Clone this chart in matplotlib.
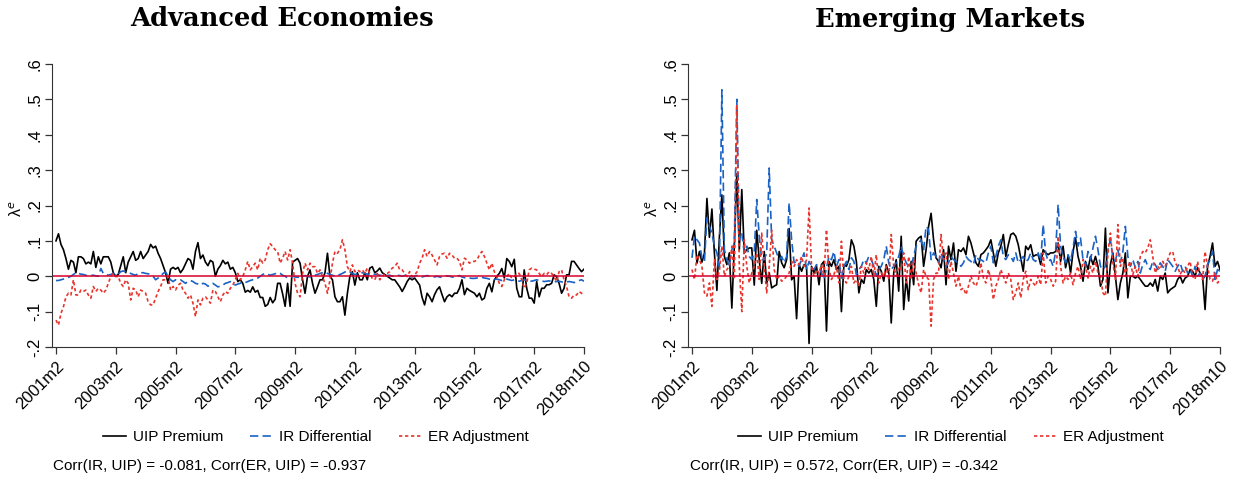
import numpy as np
import matplotlib.pyplot as plt
from matplotlib.lines import Line2D

plt.rcParams['font.family'] = ['Liberation Sans', 'DejaVu Sans']

# --- data (monthly, 2001m2 .. 2018m10) -------------------------------------
tick_pos = [0, 24, 48, 72, 96, 120, 144, 168, 192, 212]
tick_lab = ["2001m2", "2003m2", "2005m2", "2007m2", "2009m2",
            "2011m2", "2013m2", "2015m2", "2017m2", "2018m10"]
ytick_vals = [-0.2, -0.1, 0, 0.1, 0.2, 0.3, 0.4, 0.5, 0.6]
ytick_lab = ["-.2", "-.1", "0", ".1", ".2", ".3", ".4", ".5", ".6"]

ae_uip = [
    0.10, 0.12, 0.09, 0.075, 0.05, 0.02, 0.045, 0.04, 0.01, 0.055, 0.055, 0.05,
    0.035, 0.04, 0.035, 0.07, 0.025, 0.055, 0.035, 0.055, 0.055, 0.055, 0.04, 0.01,
    0.0, 0.005, 0.03, 0.055, 0.01, 0.04, 0.055, 0.07, 0.045, 0.05, 0.07, 0.05,
    0.06, 0.07, 0.09, 0.08, 0.085, 0.065, 0.05, 0.03, 0.01, -0.02, 0.02, 0.025,
    0.02, 0.025, 0.01, 0.02, 0.035, 0.05, 0.045, 0.02, 0.07, 0.095, 0.05, 0.06,
    0.04, 0.03, 0.045, 0.04, 0.0, 0.02, 0.03, 0.045, 0.035, 0.04, 0.02, 0.025,
    0.01, -0.015, -0.01, -0.02, -0.045, -0.04, -0.045, -0.03, -0.045, -0.04, -0.06, -0.06,
    -0.085, -0.08, -0.06, -0.075, -0.065, -0.02, -0.02, -0.05, -0.085, -0.02, -0.085, 0.04,
    0.045, 0.05, 0.037, -0.01, -0.048, 0.0, 0.018, -0.02, -0.048, -0.03, -0.01, -0.01,
    0.01, 0.065, 0.0, -0.01, -0.058, -0.072, -0.072, -0.058, -0.11, -0.048, 0.0, 0.013,
    -0.025, 0.01, -0.01, -0.01, 0.01, -0.01, 0.023, 0.027, 0.01, 0.015, 0.023, 0.01,
    0.005, 0.0, -0.005, -0.01, -0.01, -0.02, -0.03, -0.043, -0.03, -0.015, -0.005, -0.01,
    -0.005, -0.015, -0.025, -0.06, -0.081, -0.048, -0.058, -0.072, -0.052, -0.038, -0.03, -0.052,
    -0.072, -0.058, -0.052, -0.058, -0.048, -0.048, -0.034, -0.01, -0.052, -0.034, -0.04, -0.044,
    -0.048, -0.058, -0.048, -0.067, -0.062, -0.034, -0.02, -0.044, -0.01, 0.0, 0.008, 0.022,
    -0.005, 0.05, 0.042, 0.027, 0.048, -0.034, -0.058, -0.058, 0.018, -0.034, -0.062, -0.062,
    -0.076, -0.015, -0.058, -0.034, -0.034, -0.024, -0.024, -0.02, 0.004, -0.001, -0.02, -0.048,
    -0.034, 0.004, 0.004, 0.042, 0.042, 0.032, 0.022, 0.013, 0.02,
]
ae_ir = [
    -0.012, -0.012, -0.01, -0.008, -0.005, -0.003, 0.0, 0.005, 0.01, 0.008, 0.006, 0.005,
    0.003, 0.0, 0.002, 0.003, 0.001, 0.0, 0.022, 0.008, 0.005, 0.003, 0.005, 0.008,
    0.005, 0.006, 0.013, 0.015, 0.012, 0.01, 0.008, 0.005, 0.003, 0.008, 0.01, 0.01,
    0.008, 0.007, 0.005, 0.0, -0.01, -0.005, 0.0, 0.008, 0.012, 0.0, -0.01, -0.015,
    -0.01, -0.012, -0.01, -0.015, -0.02, -0.015, -0.012, -0.015, -0.02, -0.022, -0.025, -0.02,
    -0.022, -0.028, -0.025, -0.02, -0.025, -0.03, -0.028, -0.025, -0.02, -0.018, -0.015, -0.02,
    -0.025, -0.022, -0.02, -0.015, -0.018, -0.015, -0.012, -0.01, -0.008, -0.005, 0.0, 0.005,
    0.008, 0.005, 0.003, 0.005, 0.007, 0.01, 0.008, 0.003, 0.0, -0.005, -0.003, 0.0,
    -0.002, -0.003, -0.002, 0.0, 0.002, 0.0, -0.002, 0.0, 0.003, 0.005, 0.008, 0.01,
    0.012, 0.008, 0.005, 0.003, 0.0, 0.002, 0.005, 0.008, 0.012, 0.015, 0.012, 0.008,
    0.005, 0.006, 0.008, 0.01, 0.008, 0.006, 0.005, 0.004, 0.006, 0.005, 0.003, 0.002,
    0.0, 0.002, 0.003, 0.0, 0.002, 0.003, 0.002, 0.0, 0.002, 0.004, 0.0, -0.002,
    0.0, 0.002, 0.0, -0.002, 0.0, 0.002, 0.0, -0.003, -0.002, 0.0, -0.002, -0.003,
    0.0, 0.001, 0.0, -0.002, -0.003, 0.0, 0.002, -0.002, -0.004, -0.003, -0.005, -0.006,
    -0.006, -0.005, -0.004, -0.003, -0.005, -0.006, -0.008, -0.01, -0.009, -0.008, -0.01, -0.012,
    -0.01, -0.008, -0.01, -0.012, -0.01, -0.012, -0.014, -0.012, -0.01, -0.012, -0.013, -0.014,
    -0.012, -0.01, -0.012, -0.013, -0.015, -0.014, -0.013, -0.015, -0.016, -0.015, -0.014, -0.016,
    -0.017, -0.016, -0.015, -0.016, -0.018, -0.015, -0.012, -0.01, -0.014,
]
ae_er = [
    -0.124, -0.138, -0.105, -0.086, -0.058, -0.048, -0.053, -0.01, -0.053, -0.053, -0.039, -0.043,
    -0.039, -0.053, -0.062, -0.029, -0.043, -0.034, -0.039, -0.048, -0.039, -0.02, -0.001, 0.008,
    -0.001, -0.001, -0.02, -0.029, -0.01, -0.02, -0.067, -0.034, -0.039, -0.058, -0.039, -0.043,
    -0.048, -0.072, -0.081, -0.081, -0.062, -0.043, -0.029, -0.01, -0.01, -0.001, -0.039, -0.029,
    -0.039, -0.025, -0.02, -0.039, -0.048, -0.062, -0.053, -0.076, -0.114, -0.067, -0.081, -0.062,
    -0.058, -0.067, -0.076, -0.039, -0.043, -0.058, -0.072, -0.053, -0.043, -0.048, -0.034, -0.025,
    -0.01, 0.008, -0.01, -0.001, 0.018, 0.042, 0.018, 0.027, 0.037, 0.018, 0.051, 0.037,
    0.046, 0.075, 0.092, 0.084, 0.075, 0.07, 0.037, 0.051, 0.07, 0.046, 0.075, 0.037,
    -0.02, -0.048, -0.058, 0.008, 0.037, 0.018, 0.037, 0.027, 0.027, 0.008, 0.018, -0.001,
    -0.02, -0.048, -0.01, 0.037, 0.07, 0.065, 0.075, 0.103, 0.075, 0.027, 0.013, 0.032,
    0.013, 0.018, 0.013, 0.018, 0.008, 0.023, 0.008, -0.006, -0.01, 0.008, -0.01, -0.001,
    0.008, 0.008, 0.013, 0.023, 0.027, 0.037, 0.018, 0.018, 0.008, -0.001, 0.013, -0.001,
    0.004, 0.013, 0.037, 0.051, 0.075, 0.056, 0.07, 0.06, 0.046, 0.032, 0.056, 0.063,
    0.065, 0.051, 0.065, 0.06, 0.051, 0.051, 0.042, 0.018, 0.051, 0.046, 0.037, 0.042,
    0.042, 0.046, 0.06, 0.07, 0.056, 0.037, 0.018, 0.037, 0.013, -0.001, -0.02, -0.029,
    -0.01, -0.001, 0.008, -0.006, -0.001, 0.008, 0.008, -0.01, -0.034, -0.02, 0.018, 0.023,
    0.02, 0.018, 0.008, -0.001, 0.008, 0.004, 0.013, 0.008, -0.001, -0.015, 0.013, 0.018,
    -0.01, -0.029, -0.058, -0.062, -0.053, -0.053, -0.043, -0.048, -0.053,
]

em_uip = [
    0.103, 0.13, 0.037, 0.07, 0.04, 0.065, 0.22, 0.11, 0.19, 0.065, -0.04, 0.11,
    0.23, 0.056, 0.033, 0.066, -0.09, 0.085, 0.29, 0.075, 0.245, 0.066, 0.075, 0.08,
    0.08, -0.025, 0.13, 0.047, -0.02, 0.07, -0.02, 0.01, -0.033, -0.028, -0.024, 0.07,
    0.038, 0.024, 0.047, 0.135, -0.01, 0.0, -0.12, 0.033, 0.014, 0.033, 0.028, -0.19,
    0.028, 0.009, 0.028, -0.024, 0.033, 0.042, -0.155, 0.042, 0.028, 0.047, 0.019, 0.028,
    -0.1, 0.033, 0.028, 0.047, 0.103, 0.085, 0.042, -0.047, -0.009, -0.02, 0.019, 0.009,
    0.019, -0.009, -0.085, 0.028, 0.014, -0.014, 0.033, 0.009, -0.132, 0.009, 0.047, -0.042,
    0.113, -0.094, -0.005, -0.07, 0.042, -0.024, 0.099, 0.108, 0.113, 0.028, 0.075, 0.141,
    0.178, 0.103, 0.052, 0.042, 0.024, 0.075, -0.024, 0.085, 0.047, 0.094, 0.014, 0.075,
    0.07, 0.08, 0.061, 0.113, 0.094, 0.066, 0.038, 0.028, 0.061, 0.066, 0.075, 0.085,
    0.103, 0.066, 0.028, 0.066, 0.085, 0.118, 0.056, 0.089, 0.118, 0.122, 0.113, 0.089,
    0.052, 0.014, 0.085, 0.075, 0.089, 0.056, 0.06, 0.061, 0.033, 0.075, 0.066, 0.061,
    0.066, 0.066, 0.07, 0.094, 0.042, 0.085, 0.024, 0.056, 0.009, 0.07, 0.108, 0.056,
    0.028, -0.014, 0.042, 0.019, 0.056, 0.033, 0.056, 0.028, -0.028, -0.009, 0.136, -0.047,
    0.033, 0.066, 0.0, -0.066, -0.019, 0.009, 0.066, -0.061, 0.0, 0.0, -0.005, 0.0,
    -0.009, -0.019, -0.028, -0.028, -0.019, -0.028, -0.009, -0.042, 0.0, -0.009, 0.009, -0.047,
    -0.038, -0.033, -0.028, -0.009, 0.0, -0.019, -0.005, 0.0, 0.019, 0.014, 0.0, 0.024,
    0.009, 0.0, -0.094, 0.028, 0.056, 0.094, 0.028, 0.042, 0.019,
]
em_ir = [
    0.052, 0.113, 0.103, 0.094, 0.052, 0.042, 0.165, 0.141, 0.122, 0.085, 0.066, 0.028,
    0.527, 0.075, 0.047, 0.028, 0.075, 0.094, 0.50, 0.103, 0.122, 0.066, 0.085, 0.056,
    0.047, 0.066, 0.217, 0.113, 0.047, 0.047, 0.066, 0.306, 0.103, 0.085, 0.066, 0.047,
    0.056, 0.038, 0.056, 0.207, 0.103, 0.038, 0.042, 0.028, 0.047, 0.066, 0.019, 0.042,
    0.028, 0.019, 0.033, 0.024, 0.009, -0.009, 0.024, 0.056, 0.047, 0.07, 0.028, 0.047,
    -0.005, 0.028, 0.042, 0.019, 0.052, 0.042, 0.005, 0.019, 0.028, 0.047, 0.038, 0.056,
    0.047, 0.028, 0.0, 0.019, 0.028, 0.047, 0.085, 0.038, 0.019, 0.028, 0.038, 0.056,
    0.085, 0.056, 0.038, 0.028, 0.028, 0.056, 0.085, 0.094, 0.103, 0.075, 0.141, 0.132,
    0.047, 0.066, 0.056, 0.038, 0.066, 0.047, 0.028, 0.038, 0.056, 0.047, 0.042, 0.038,
    0.028, 0.038, 0.056, 0.047, 0.042, 0.033, 0.061, 0.047, 0.047, 0.042, 0.038, 0.066,
    0.085, 0.038, 0.056, 0.085, 0.103, 0.056, 0.047, 0.061, 0.056, 0.042, 0.066, 0.038,
    0.047, 0.056, 0.042, 0.047, 0.066, 0.047, 0.042, 0.066, 0.042, 0.146, 0.066, 0.042,
    0.047, 0.028, 0.07, 0.203, 0.085, 0.056, 0.038, 0.061, 0.042, 0.08, 0.127, 0.085,
    0.108, 0.047, 0.028, 0.07, 0.047, 0.08, 0.113, 0.075, 0.028, 0.019, 0.028, 0.075,
    0.103, 0.056, 0.042, 0.075, 0.038, 0.07, 0.141, 0.056, 0.028, 0.047, 0.024, 0.042,
    0.009, 0.033, 0.047, 0.028, 0.019, 0.042, 0.033, 0.019, 0.038, 0.028, 0.014, 0.047,
    0.038, 0.028, 0.014, 0.028, 0.038, 0.014, 0.028, 0.009, 0.019, 0.0, 0.028, 0.0,
    0.009, -0.009, 0.0, 0.033, 0.047, 0.07, -0.009, 0.019, 0.014,
]
em_er = [
    0.019, -0.009, 0.061, 0.047, 0.028, -0.047, -0.056, -0.019, -0.085, 0.047, -0.009, 0.014,
    0.085, 0.0, 0.019, 0.028, 0.085, -0.009, 0.485, 0.028, -0.1, 0.103, 0.028, -0.019,
    0.009, 0.028, 0.066, -0.009, 0.122, 0.028, -0.047, 0.028, 0.13, 0.019, -0.009, 0.0,
    -0.014, -0.009, 0.0, 0.009, 0.042, 0.028, 0.047, 0.033, 0.056, 0.028, 0.047, 0.193,
    0.028, 0.0, 0.019, 0.009, 0.033, 0.0, 0.132, 0.019, -0.009, 0.005, 0.028, -0.019,
    0.099, -0.009, -0.019, 0.0, 0.028, -0.019, -0.009, -0.028, 0.028, 0.009, 0.038, 0.019,
    0.056, 0.0, 0.061, -0.019, 0.009, 0.0, 0.028, -0.009, 0.118, 0.028, 0.0, 0.028,
    0.019, 0.066, -0.019, 0.056, -0.009, 0.047, 0.009, -0.024, -0.047, 0.019, 0.0, -0.009,
    -0.141, -0.009, 0.009, 0.009, 0.118, 0.047, 0.066, -0.009, 0.042, 0.009, -0.028, 0.0,
    -0.038, -0.033, -0.052, -0.028, 0.0, -0.019, -0.028, -0.009, 0.038, -0.005, -0.019, 0.019,
    -0.009, -0.066, -0.028, -0.009, 0.019, 0.0, -0.019, 0.009, -0.009, -0.066, -0.047, -0.019,
    -0.061, -0.009, 0.014, -0.038, -0.009, -0.019, -0.028, 0.0, -0.024, 0.066, -0.019, 0.0,
    -0.009, -0.028, -0.014, 0.113, 0.028, -0.019, 0.0, -0.009, 0.009, -0.024, 0.009, 0.028,
    -0.009, 0.047, 0.028, -0.005, 0.028, 0.009, 0.042, 0.009, 0.0, -0.047, -0.056, 0.066,
    0.122, 0.038, -0.009, 0.146, 0.028, 0.047, 0.0, 0.028, 0.042, 0.005, 0.028, 0.0,
    0.056, 0.07, 0.066, 0.08, 0.103, 0.056, 0.009, 0.028, 0.019, 0.042, 0.028, 0.047,
    0.066, 0.07, 0.038, 0.028, 0.005, 0.019, 0.009, 0.028, 0.042, 0.0, -0.009, 0.042,
    0.0, -0.009, 0.07, 0.028, -0.009, -0.014, 0.009, -0.019, -0.009,
]

months = np.arange(len(ae_uip))

BLUE = "#1a62c4"
RED = "#e8342c"
ZERO = "#d8002e"


def draw_panel(ax, uip, ir, er):
    ax.plot(months, uip, color="black", lw=1.2)
    ax.plot(months, ir, color=BLUE, lw=1.2, dashes=(5, 2.5))
    ax.plot(months, er, color=RED, lw=1.2, dashes=(2, 1.6))
    ax.axhline(0, color=ZERO, lw=1.1)
    ax.set_xlim(-1.6, 212)
    ax.set_ylim(-0.2, 0.6)
    ax.spines["top"].set_visible(False)
    ax.spines["right"].set_visible(False)
    ax.spines["left"].set_color("#333333")
    ax.spines["bottom"].set_color("#333333")
    ax.set_xticks(tick_pos)
    ax.set_xticklabels(tick_lab, rotation=45, ha="right",
                       rotation_mode="anchor", fontsize=12)
    ax.set_yticks(ytick_vals)
    ax.set_yticklabels(ytick_lab, rotation=90, va="center", fontsize=12)
    ax.tick_params(direction="out", length=5, width=0.9, colors="#333333",
                   labelcolor="black")
    ax.tick_params(axis="y", pad=2)
    ax.set_ylabel("λ$^{e}$", fontsize=11.5, rotation=90)
    ax.yaxis.set_label_coords(-0.05, 0.49)


fig = plt.figure(figsize=(12.33, 4.83), dpi=100)
ax1 = fig.add_axes([52 / 1233, 1 - 347 / 483, 532 / 1233, 283 / 483])
ax2 = fig.add_axes([688 / 1233, 1 - 347 / 483, 532 / 1233, 283 / 483])

draw_panel(ax1, ae_uip, ae_ir, ae_er)
draw_panel(ax2, em_uip, em_ir, em_er)

fig.text(282 / 1233, 1 - 19 / 483, "Advanced Economies", ha="center", va="center",
         fontsize=18.5, fontweight="bold", family="DejaVu Serif")
fig.text(950 / 1233, 1 - 19 / 483, "Emerging Markets", ha="center", va="center",
         fontsize=18.5, fontweight="bold", family="DejaVu Serif")

handles = [Line2D([], [], color="black", lw=1.2),
           Line2D([], [], color=BLUE, lw=1.2, dashes=(5, 2.5)),
           Line2D([], [], color=RED, lw=1.2, dashes=(2, 1.6))]
labels = ["UIP Premium", "IR Differential", "ER Adjustment"]
for cx in (316 / 1233, 951 / 1233):
    fig.legend(handles, labels, loc="center", ncol=3, frameon=False,
               bbox_to_anchor=(cx, 1 - 437 / 483), fontsize=11,
               handlelength=1.5, handletextpad=0.45, columnspacing=1.75)

fig.text(53 / 1233, 1 - 466 / 483, "Corr(IR, UIP) = -0.081, Corr(ER, UIP) = -0.937",
         ha="left", va="center", fontsize=11)
fig.text(690 / 1233, 1 - 466 / 483, "Corr(IR, UIP) = 0.572, Corr(ER, UIP) = -0.342",
         ha="left", va="center", fontsize=11)

fig.savefig("out.png", dpi=100, facecolor="white")
